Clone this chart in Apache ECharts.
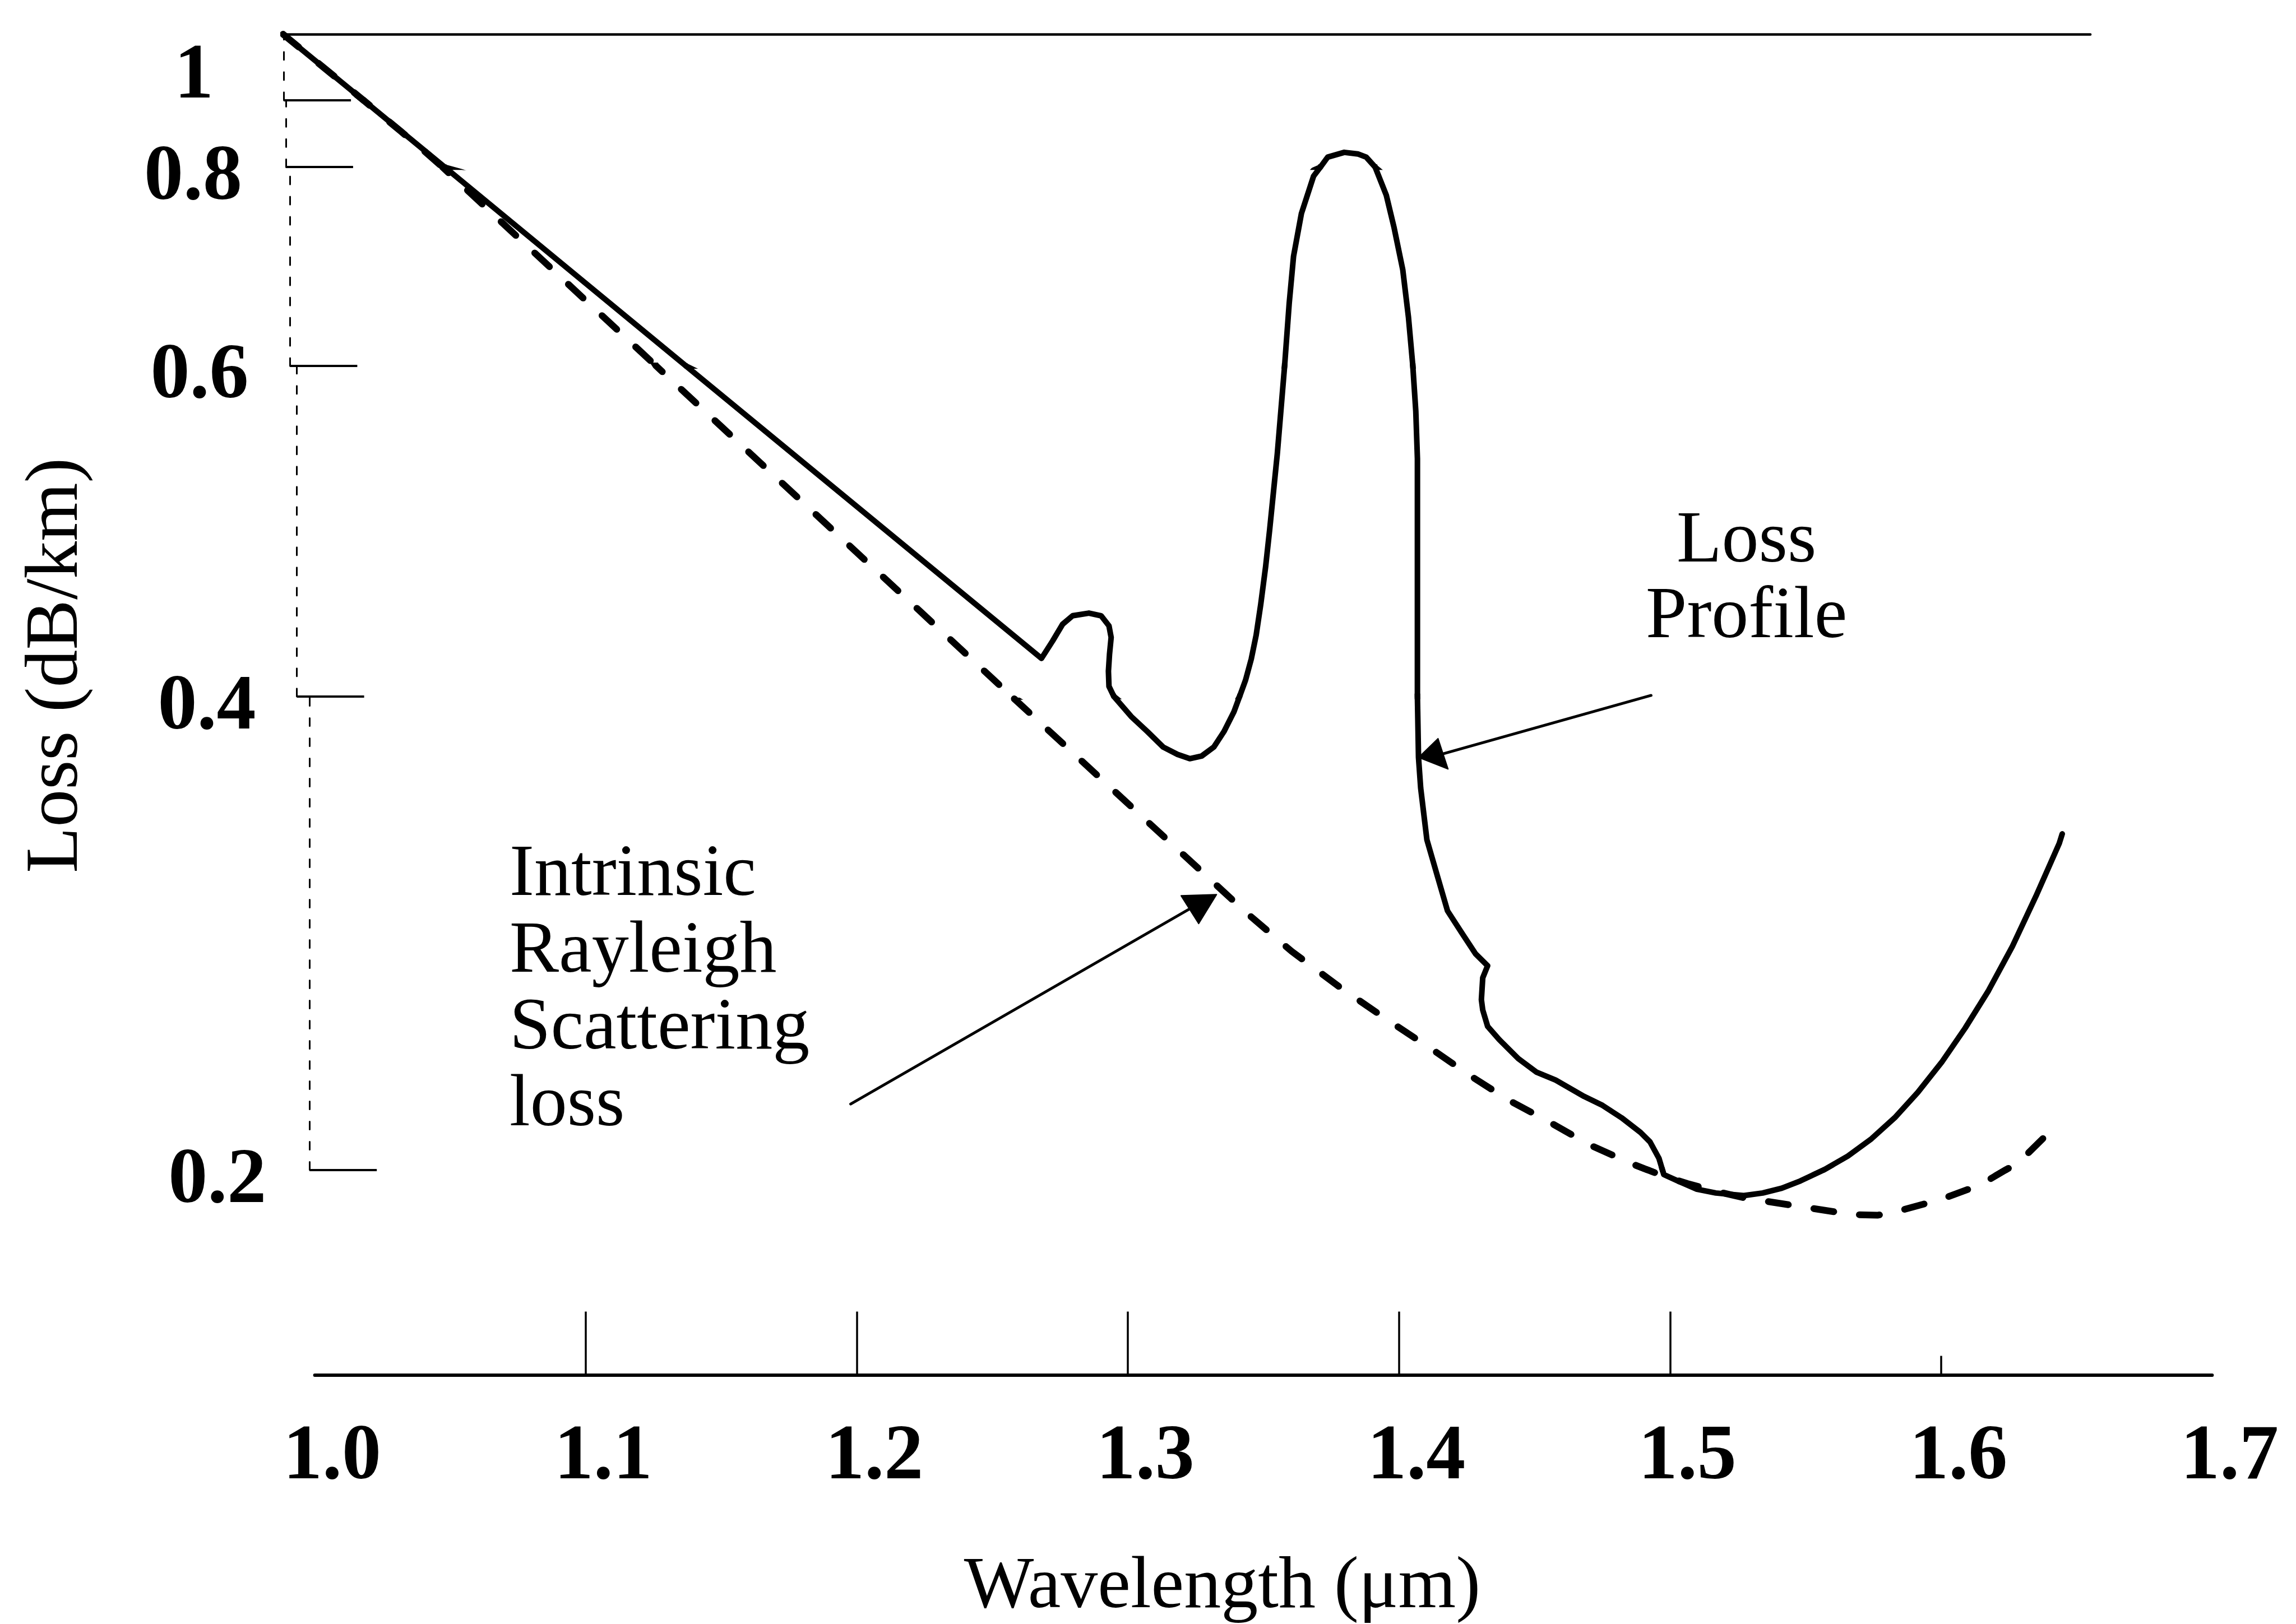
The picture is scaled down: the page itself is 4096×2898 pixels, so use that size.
<!DOCTYPE html>
<html>
<head>
<meta charset="utf-8">
<script src="https://cdn.jsdelivr.net/npm/echarts@6/dist/echarts.min.js"></script>
<style>
  html, body { margin: 0; padding: 0; background: #ffffff; }
  #chart { width: 4096px; height: 2898px; }
</style>
</head>
<body>
<div id="chart"></div>
<script>
// ---- data -------------------------------------------------------------
// Wavelength axis labels (µm) and the tick marks drawn on that axis
const wavelengthTicks = [1.0, 1.1, 1.2, 1.3, 1.4, 1.5, 1.6, 1.7];
const wavelengthTickMarks = [1.1, 1.2, 1.3, 1.4, 1.5];
const wavelengthShortTickMarks = [1.6];

// Loss axis labels (dB/km)
const lossTicks = [0.2, 0.4, 0.6, 0.8, 1];

// Measured loss profile of the fibre: [wavelength µm, loss dB/km]
const lossProfile = [
  [0.9883, 1.1969], [1.0179, 1.0], [1.0479, 0.8], [1.1369, 0.6], [1.2681, 0.4230],
  [1.2722, 0.4335], [1.2759, 0.4437], [1.2796, 0.4488], [1.2856, 0.4504], [1.2901, 0.4488],
  [1.2930, 0.4427], [1.2938, 0.4357], [1.2932, 0.4255], [1.2928, 0.4153], [1.2930, 0.4061],
  [1.2948, 0.4], [1.3012, 0.3915], [1.3072, 0.3851], [1.3130, 0.3786], [1.3183, 0.3755],
  [1.3228, 0.3737], [1.3272, 0.3748], [1.3317, 0.3786], [1.3354, 0.3851], [1.3391, 0.3935],
  [1.3412, 0.4], [1.3434, 0.4099], [1.3455, 0.4226], [1.3473, 0.4370], [1.3490, 0.4558],
  [1.3508, 0.4785], [1.3523, 0.5011], [1.3551, 0.5467], [1.3578, 0.6], [1.3595, 0.6631],
  [1.3611, 0.7103], [1.3640, 0.7533], [1.3685, 0.7910], [1.3710, 0.8], [1.3737, 0.8299],
  [1.3798, 0.8441], [1.3848, 0.8394], [1.3879, 0.8299], [1.3912, 0.8], [1.3953, 0.7719],
  [1.3982, 0.7390], [1.4014, 0.6966], [1.4035, 0.6488], [1.4051, 0.6], [1.4062, 0.5726],
  [1.4068, 0.5439], [1.4068, 0.4], [1.4072, 0.3742], [1.4080, 0.3613], [1.4103, 0.3394],
  [1.4144, 0.3232], [1.4179, 0.3094], [1.4230, 0.3004], [1.4282, 0.2913], [1.4327, 0.2862],
  [1.4309, 0.2811], [1.4304, 0.2719], [1.4309, 0.2675], [1.4327, 0.2606], [1.4370, 0.2550],
  [1.4440, 0.2470], [1.4508, 0.2412], [1.4578, 0.2379], [1.4683, 0.2310], [1.4751, 0.2272],
  [1.4821, 0.2220], [1.4891, 0.2158], [1.4926, 0.2118], [1.4959, 0.2049], [1.4977, 0.1980],
  [1.5029, 0.1953], [1.5099, 0.1918], [1.5169, 0.1902], [1.5272, 0.1891], [1.5342, 0.1902],
  [1.5412, 0.1922], [1.5481, 0.1953], [1.5568, 0.2], [1.5656, 0.2058], [1.5743, 0.2131],
  [1.5829, 0.2220], [1.5914, 0.2327], [1.6002, 0.2454], [1.6089, 0.2599], [1.6175, 0.2757],
  [1.6263, 0.2944], [1.6350, 0.3156], [1.6436, 0.3379], [1.6447, 0.3419]
];

// Intrinsic Rayleigh scattering loss: [wavelength µm, loss dB/km]
const rayleighLoss = [
  [0.9883, 1.1969], [1.0179, 1.0], [1.0317, 0.9071], [1.0405, 0.8472], [1.0471, 0.8],
  [1.1259, 0.6], [1.2571, 0.4], [1.3438, 0.3085], [1.3605, 0.2922], [1.3780, 0.2773],
  [1.3955, 0.2635], [1.4126, 0.2506], [1.4265, 0.2396], [1.4405, 0.2294], [1.4553, 0.2203],
  [1.4700, 0.2107], [1.4856, 0.2027], [1.4977, 0.1973], [1.5064, 0.1942], [1.5169, 0.1909],
  [1.5272, 0.1882], [1.5333, 0.1871], [1.5508, 0.1840], [1.5673, 0.1811], [1.5765, 0.1808],
  [1.5829, 0.1822], [1.5994, 0.1873], [1.6142, 0.1935], [1.6288, 0.2033], [1.6403, 0.2163],
  [1.6440, 0.2200]
];

// Annotation arrows, anchored in data coordinates
const profileArrow = {
  from: [1.4930, 0.4006], to: [1.4161, 0.3757],
  head: [[1.4072, 0.3742], [1.4144, 0.3822], [1.4181, 0.3693]]
};
const rayleighArrow = {
  from: [1.1977, 0.2278], to: [1.3224, 0.3100],
  head: [[1.3196, 0.3158], [1.3327, 0.3163], [1.3261, 0.3040]]
};

// ---- layout -----------------------------------------------------------
const FONT = '"Liberation Serif", "Times New Roman", serif';
const INK = '#000000';
const x1Px = 561.6;            // pixel column of 1.0 µm
const xPxPerUnit = 4835.4;     // pixels per µm
const xMax = 1.7;
const rightPx = x1Px + (xMax - 1) * xPxPerUnit;

// The loss axis of this plot is hand-spaced, so it is built from linear
// pieces: one grid per interval between neighbouring ticks.
const lossTickPx = [2087.5, 1242.7, 652.9, 298.2, 178.7]; // rows of 0.2 … 1
const axisBottomPx = 2453.5;
const plotTopPx = 57;
const tickLeftPx = [552.2, 529.6, 517.4, 509.9, 506.1];   // the drawn axis leans a little
const lossLabelMargin = [77, 73, 74, 78, 125];
// labels sit a little below their ticks, except the top one which sits above
const lossLabelPlacement = [
  { verticalAlign: 'top', lineHeight: 42 },
  { verticalAlign: 'top', lineHeight: 42 },
  { verticalAlign: 'top', lineHeight: 40 },
  { verticalAlign: 'top', lineHeight: 42 },
  { verticalAlign: 'bottom', lineHeight: 81 }
];

const bands = [];
(function buildBands() {
  const n = lossTicks.length - 1;
  const perLow = (lossTickPx[0] - lossTickPx[1]) / (lossTicks[1] - lossTicks[0]);
  bands.push({
    min: lossTicks[0] - (axisBottomPx - lossTickPx[0]) / perLow, max: lossTicks[0],
    top: lossTickPx[0], bottom: axisBottomPx, left: x1Px, tick: null
  });
  for (let i = 0; i < n; i++) {
    bands.push({
      min: lossTicks[i], max: lossTicks[i + 1],
      top: lossTickPx[i + 1], bottom: lossTickPx[i], left: tickLeftPx[i], tick: i
    });
  }
  const perHigh = (lossTickPx[n - 1] - lossTickPx[n]) / (lossTicks[n] - lossTicks[n - 1]);
  bands.push({
    min: lossTicks[n], max: lossTicks[n] + (lossTickPx[n] - plotTopPx) / perHigh,
    top: plotTopPx, bottom: lossTickPx[n], left: tickLeftPx[n], tick: n
  });
})();

const xMinOf = b => 1 + (b.left - x1Px) / xPxPerUnit;

const tickFont = { fontFamily: FONT, fontSize: 140, fontWeight: 'bold', color: INK };

const grids = [], xAxes = [], yAxes = [], series = [];

bands.forEach((b, i) => {
  grids.push({
    left: b.left, top: b.top, width: rightPx - b.left, height: b.bottom - b.top,
    outerBoundsMode: 'none'
  });

  if (i === 0) {
    xAxes.push({
      gridIndex: i, type: 'value', min: xMinOf(b), max: xMax,
      axisLine: { show: true, onZero: false, lineStyle: { color: INK, width: 6 } },
      axisTick: {
        show: true, inside: true, length: 113, customValues: wavelengthTickMarks,
        lineStyle: { color: INK, width: 3.5 }
      },
      axisLabel: Object.assign({
        show: true, customValues: wavelengthTicks, margin: 78, padding: [0, 0, 0, 62],
        lineHeight: 140,
        formatter: v => Number(v).toFixed(1)
      }, tickFont),
      splitLine: { show: false },
      name: 'Wavelength (μm)', nameLocation: 'middle', nameGap: 314,
      nameTextStyle: {
        fontFamily: FONT, fontSize: 132, color: INK, lineHeight: 132, padding: [0, 147, 0, 0]
      }
    });
  } else {
    xAxes.push({ gridIndex: i, type: 'value', min: xMinOf(b), max: xMax, show: false });
  }

  if (b.tick == null) {
    yAxes.push({ gridIndex: i, type: 'value', min: b.min, max: b.max, show: false });
  } else {
    const tv = lossTicks[b.tick];
    yAxes.push({
      gridIndex: i, type: 'value', min: b.min, max: b.max,
      axisLine: { show: true, onZero: false, lineStyle: { color: INK, width: 3, type: [14, 22] } },
      axisTick: {
        show: true, inside: true, length: 120, customValues: [tv],
        lineStyle: { color: INK, width: 4 }
      },
      axisLabel: Object.assign({
        show: true, customValues: [tv], margin: lossLabelMargin[b.tick],
        formatter: v => String(+Number(v).toFixed(1))
      }, tickFont, lossLabelPlacement[b.tick]),
      splitLine: { show: false }
    });
  }

  series.push({
    type: 'line', xAxisIndex: i, yAxisIndex: i, data: rayleighLoss,
    showSymbol: false, symbol: 'none', clip: true, silent: true, z: 2,
    lineStyle: { color: INK, width: 12, type: [36, 46], cap: 'round', join: 'round' }
  });
  series.push({
    type: 'line', xAxisIndex: i, yAxisIndex: i, data: lossProfile,
    showSymbol: false, symbol: 'none', clip: true, silent: true, z: 3,
    lineStyle: { color: INK, width: 10, cap: 'round', join: 'round' }
  });
});

// Frame: top rule and the loss-axis title
const frameIndex = grids.length;
grids.push({
  left: 505.2, top: 61.1, width: 3729.1 - 505.2, height: axisBottomPx - 61.1,
  outerBoundsMode: 'none'
});
xAxes.push({
  gridIndex: frameIndex, type: 'value', min: 0, max: 1, position: 'top',
  axisLine: { show: true, onZero: false, lineStyle: { color: INK, width: 4.5 } },
  axisTick: { show: false }, axisLabel: { show: false }, splitLine: { show: false }
});
yAxes.push({
  gridIndex: frameIndex, type: 'value', min: 0, max: 1,
  axisLine: { show: false }, axisTick: { show: false }, axisLabel: { show: false },
  splitLine: { show: false },
  name: 'Loss (dB/km)', nameLocation: 'middle', nameGap: 336, nameRotate: 90,
  nameTextStyle: {
    fontFamily: FONT, fontSize: 134, color: INK, lineHeight: 134, padding: [0, 0, 0, 140]
  }
});

// Short tick mark at 1.6 µm
const shortTickIndex = grids.length;
grids.push({
  left: x1Px, top: bands[0].top, width: rightPx - x1Px, height: axisBottomPx - bands[0].top,
  outerBoundsMode: 'none'
});
xAxes.push({
  gridIndex: shortTickIndex, type: 'value', min: 1.0, max: xMax,
  axisLine: { show: false, onZero: false },
  axisTick: {
    show: true, inside: true, length: 34, customValues: wavelengthShortTickMarks,
    lineStyle: { color: INK, width: 3.5 }
  },
  axisLabel: { show: false }, splitLine: { show: false }
});
yAxes.push({ gridIndex: shortTickIndex, type: 'value', min: 0, max: 1, show: false });

const chart = echarts.init(document.getElementById('chart'), null, {
  renderer: 'canvas', width: 4096, height: 2898
});

chart.setOption({
  animation: false,
  backgroundColor: '#ffffff',
  textStyle: { fontFamily: FONT, color: INK },
  grid: grids,
  xAxis: xAxes,
  yAxis: yAxes,
  series: series
});

// ---- annotations ------------------------------------------------------
function bandOf(loss) {
  for (let i = 0; i < bands.length; i++) {
    if (loss >= bands[i].min && loss <= bands[i].max) return i;
  }
  return loss < bands[0].min ? 0 : bands.length - 1;
}
function toPx(pt) {
  const i = bandOf(pt[1]);
  return chart.convertToPixel({ xAxisIndex: i, yAxisIndex: i }, pt);
}
function arrowElements(a) {
  return [
    {
      type: 'polyline', silent: true, z: 10,
      shape: { points: [toPx(a.from), toPx(a.to)] },
      style: { stroke: INK, lineWidth: 5, fill: null, lineCap: 'round' }
    },
    {
      type: 'polygon', silent: true, z: 10,
      shape: { points: a.head.map(toPx) },
      style: { fill: INK, stroke: INK, lineWidth: 2, lineJoin: 'round' }
    }
  ];
}

const textStyleBase = { fontFamily: FONT, fontSize: 132, fill: INK };

chart.setOption({
  graphic: [
    {
      type: 'text', x: 3115.6, y: 900.2, silent: true, z: 10,
      style: Object.assign({
        text: 'Loss\nProfile', lineHeight: 135,
        align: 'center', verticalAlign: 'top', textAlign: 'center', textVerticalAlign: 'top'
      }, textStyleBase)
    },
    {
      type: 'text', x: 909, y: 1493.7, silent: true, z: 10,
      style: Object.assign({
        text: 'Intrinsic\nRayleigh\nScattering\nloss', lineHeight: 137,
        align: 'left', verticalAlign: 'top', textAlign: 'left', textVerticalAlign: 'top'
      }, textStyleBase)
    }
  ].concat(arrowElements(profileArrow), arrowElements(rayleighArrow))
});
</script>
</body>
</html>
